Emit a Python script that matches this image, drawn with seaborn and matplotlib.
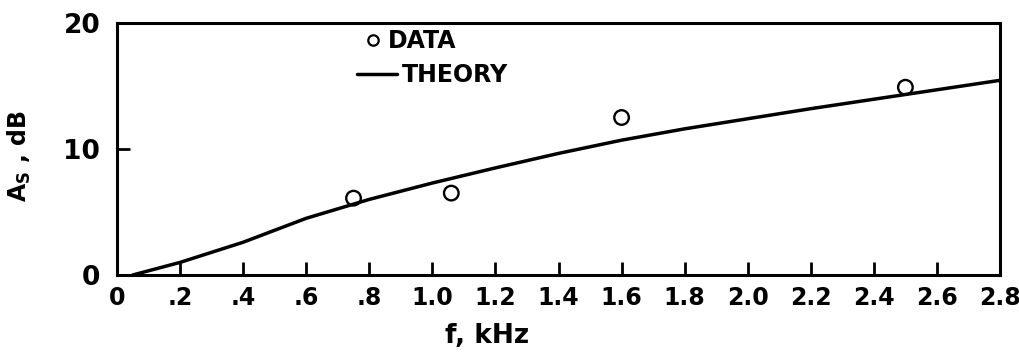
import matplotlib
matplotlib.use("Agg")
import matplotlib.pyplot as plt
from matplotlib.lines import Line2D
import seaborn as sns

# Measured attenuation points
freq_data = [0.75, 1.06, 1.60, 2.50]
atten_data = [6.1, 6.5, 12.5, 14.9]

# Theoretical attenuation curve
freq_theory = [0.05, 0.2, 0.4, 0.6, 0.8, 1.0, 1.2, 1.4, 1.6, 1.8, 2.0, 2.2, 2.4, 2.6, 2.8]
atten_theory = [0.0, 1.0, 2.6, 4.5, 6.0, 7.3, 8.5, 9.65, 10.7, 11.6, 12.4, 13.2, 13.95, 14.7, 15.45]

# Axis ticks
x_ticks = [0, 0.2, 0.4, 0.6, 0.8, 1.0, 1.2, 1.4, 1.6, 1.8, 2.0, 2.2, 2.4, 2.6, 2.8]
x_tick_labels = ["0", ".2", ".4", ".6", ".8", "1.0", "1.2", "1.4", "1.6", "1.8",
                 "2.0", "2.2", "2.4", "2.6", "2.8"]
y_ticks = [0, 10, 20]
y_tick_labels = ["0", "10", "20"]

sns.set_style("ticks")
plt.rcParams["font.family"] = ["DejaVu Sans"]
plt.rcParams["font.weight"] = "bold"
plt.rcParams["mathtext.fontset"] = "dejavusans"
for key in ["text.color", "axes.labelcolor", "xtick.color", "ytick.color", "axes.edgecolor"]:
    plt.rcParams[key] = "black"

W, H = 1019, 355
fig = plt.figure(figsize=(W / 100, H / 100), dpi=100)
ax = fig.add_axes([117 / W, 80 / H, 883 / W, 252 / H])

sns.lineplot(x=freq_theory, y=atten_theory, color="black", linewidth=2.5,
             ax=ax, legend=False, sort=False)
sns.scatterplot(x=freq_data, y=atten_data, marker="o", s=110,
                facecolors="none", edgecolor="black", linewidth=1.7,
                ax=ax, legend=False, zorder=3)

ax.set_xlim(0, 2.8)
ax.set_ylim(0, 20)
ax.set_xticks(x_ticks)
ax.set_xticklabels(x_tick_labels)
ax.set_yticks(y_ticks)
ax.set_yticklabels(y_tick_labels)

for side in ["left", "right", "top", "bottom"]:
    ax.spines[side].set_visible(True)
    ax.spines[side].set_linewidth(2.2)
    ax.spines[side].set_color("black")

ax.tick_params(axis="both", direction="in", length=9.5, width=2,
               top=False, right=False, colors="black")
ax.tick_params(axis="x", pad=8, labelsize=17)
ax.tick_params(axis="y", pad=12, labelsize=19)
for lbl in ax.get_xticklabels() + ax.get_yticklabels():
    lbl.set_fontweight("bold")

ax.set_xlabel("f, kHz", fontsize=19, fontweight="bold")
ax.xaxis.set_label_coords(0.419, -0.19)
ax.set_ylabel(r"A$_\mathbf{S}$ , dB", fontsize=17, fontweight="bold")
ax.yaxis.set_label_coords(-0.095, 0.472)

# Legend entries: open circle for data, solid line for theory
prop = {"weight": "bold", "size": 17}
data_handle = Line2D([], [], marker="o", linestyle="none", markersize=7.5,
                     markerfacecolor="none", markeredgecolor="black",
                     markeredgewidth=1.6)
theory_handle = Line2D([], [], color="black", linewidth=2.5)

leg1 = ax.legend([data_handle], ["DATA"], loc="center left",
                 bbox_to_anchor=(0.2786, 0.929), bbox_transform=ax.transAxes,
                 frameon=False, borderpad=0, borderaxespad=0,
                 handlelength=0.85, handletextpad=0.2, prop=prop)
ax.add_artist(leg1)
ax.legend([theory_handle], ["THEORY"], loc="center left",
          bbox_to_anchor=(0.272, 0.794), bbox_transform=ax.transAxes,
          frameon=False, borderpad=0, borderaxespad=0,
          handlelength=1.7, handletextpad=0.2, prop=prop)

fig.savefig("out.png", dpi=100, facecolor="white")
